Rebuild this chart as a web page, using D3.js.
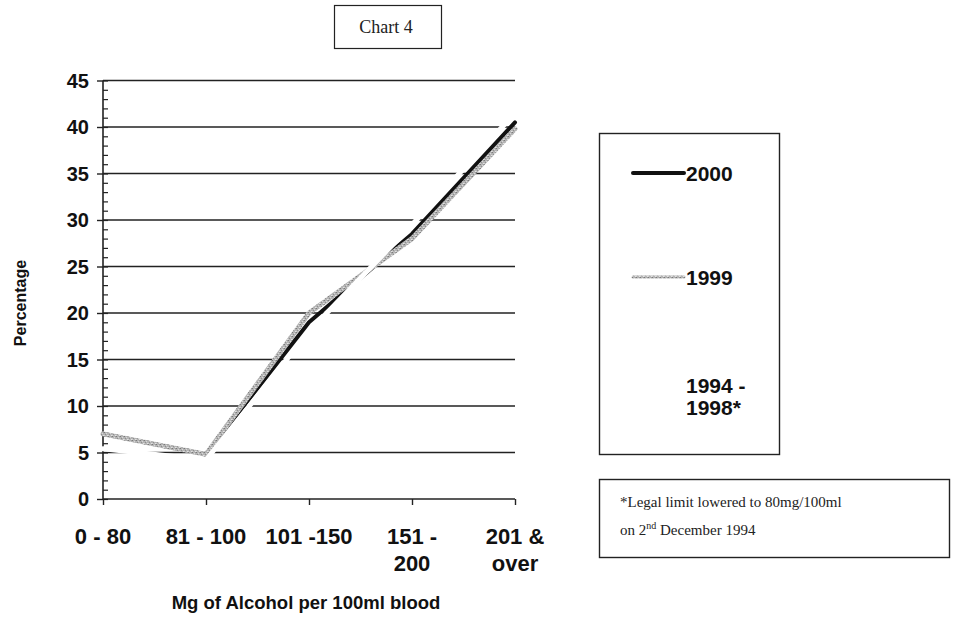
<!DOCTYPE html>
<html><head><meta charset="utf-8">
<script src="https://cdn.jsdelivr.net/npm/d3@7"></script>
<style>body{margin:0;background:#fff}svg{display:block}</style>
</head><body>
<svg id="chart" width="956" height="618"></svg>
<script>
// ---- data ----
const categories = ["0 - 80", "81 - 100", "101 -150", "151 - 200", "201 & over"];
const categoryLabelLines = [["0 - 80"], ["81 - 100"], ["101 -150"], ["151 -", "200"], ["201 &", "over"]];
const values2000 = [7, 4.8, 19, 28.5, 40.5];
const values1999 = [7, 4.8, 20, 28, 39.8];
const values1994to1998 = [5.4, 4.2, 18, 29.5, 41.5];
const seriesNames = ["2000", "1999", "1994 - 1998*"];
const legendLabelLines = [["2000"], ["1999"], ["1994 -", "1998*"]];
const yTickValues = [0, 5, 10, 15, 20, 25, 30, 35, 40, 45];
const yMinorTickValues = d3.range(0, 46, 1);
const chartTitle = "Chart 4";
const yAxisTitle = "Percentage";
const xAxisTitle = "Mg of Alcohol per 100ml blood";
const footnoteLines = ["*Legal limit lowered to 80mg/100ml", "on 2|nd| December 1994"];

// ---- layout ----
const svg = d3.select("#chart");
const SANS = "'Liberation Sans', Arial, sans-serif";
const SERIF = "'Liberation Serif', 'Times New Roman', serif";
const x = d3.scalePoint().domain(categories).range([103, 515]).padding(0);
const y = d3.scaleLinear().domain([0, 45]).range([499, 80.5]);

svg.append("rect").attr("width", 956).attr("height", 618).attr("fill", "#fff");

// speckled grey texture for the 1999 series
const defs = svg.append("defs");
const pat = defs.append("pattern").attr("id", "speckle").attr("patternUnits", "userSpaceOnUse")
  .attr("width", 4).attr("height", 4);
pat.append("rect").attr("width", 4).attr("height", 4).attr("fill", "#b4b4b4");
[[0, 0, "#7a7a7a"], [2, 1, "#d8d8d8"], [1, 2, "#8e8e8e"], [3, 3, "#e2e2e2"], [3, 0, "#9c9c9c"], [0, 3, "#cfcfcf"]]
  .forEach(([px, py, c]) => pat.append("rect").attr("x", px).attr("y", py).attr("width", 1).attr("height", 1).attr("fill", c));

// title box
svg.append("rect").attr("x", 334.5).attr("y", 5.5).attr("width", 107).attr("height", 43)
  .attr("fill", "none").attr("stroke", "#222").attr("stroke-width", 1.2);
svg.append("text").attr("x", 386).attr("y", 33).attr("text-anchor", "middle")
  .attr("font-family", SERIF).attr("font-size", 18).attr("fill", "#222").text(chartTitle);

// gridlines
svg.append("g").selectAll("line").data(yTickValues.filter(d => d > 0)).join("line")
  .attr("x1", x.range()[0]).attr("x2", x.range()[1])
  .attr("y1", d => y(d)).attr("y2", d => y(d))
  .attr("stroke", "#222").attr("stroke-width", 1.6);

// y axis
const yAxisG = svg.append("g").attr("transform", `translate(${x.range()[0]},0)`);
yAxisG.append("g").call(d3.axisRight(y).tickValues(yMinorTickValues).tickSize(5).tickFormat(""))
  .call(g => g.select(".domain").remove())
  .selectAll("line").attr("stroke", "#222").attr("stroke-width", 1.2);
yAxisG.append("g").call(d3.axisLeft(y).tickValues(yTickValues).tickSize(6).tickFormat(""))
  .call(g => g.select(".domain").attr("stroke", "#222").attr("stroke-width", 1.6).attr("d", `M0,${y(45)}V${y(0)}`))
  .selectAll("line").attr("stroke", "#222").attr("stroke-width", 1.4);
svg.append("g").selectAll("text").data(yTickValues).join("text")
  .attr("x", 89).attr("y", d => y(d)).attr("dy", "0.36em").attr("text-anchor", "end")
  .attr("font-family", SANS).attr("font-weight", "bold").attr("font-size", 20).attr("fill", "#111")
  .text(d => d);

// x axis
const xAxisG = svg.append("g").attr("transform", `translate(0,${y(0)})`);
xAxisG.call(d3.axisBottom(x).tickSize(6).tickFormat(""))
  .call(g => g.select(".domain").attr("stroke", "#222").attr("stroke-width", 1.6).attr("d", `M${x.range()[0]},0H${x.range()[1]}`))
  .selectAll("line").attr("stroke", "#222").attr("stroke-width", 1.4);
const xl = svg.append("g").selectAll("text").data(categories).join("text")
  .attr("text-anchor", "middle").attr("font-family", SANS).attr("font-weight", "bold")
  .attr("font-size", 22).attr("fill", "#111");
xl.each(function(d, i) {
  const lines = categoryLabelLines[i];
  d3.select(this).selectAll("tspan").data(lines).join("tspan")
    .attr("x", x(d)).attr("y", (t, j) => 544 + j * 27).text(t => t);
});

// axis titles
svg.append("text").attr("transform", "translate(26,303) rotate(-90)").attr("text-anchor", "middle")
  .attr("font-family", SANS).attr("font-weight", "bold").attr("font-size", 16).attr("fill", "#111")
  .text(yAxisTitle);
svg.append("text").attr("x", 306).attr("y", 609).attr("text-anchor", "middle")
  .attr("font-family", SANS).attr("font-weight", "bold").attr("font-size", 18.5).attr("fill", "#111")
  .text(xAxisTitle);

// lines
const line = d3.line().x((d, i) => x(categories[i])).y(d => y(d));
const seriesStyles = [
  { values: values2000, stroke: "#111", width: 4 },
  { values: values1999, stroke: "url(#speckle)", width: 5 },
  { values: values1994to1998, stroke: "#ffffff", width: 5 }
];
svg.append("g").selectAll("path").data(seriesStyles).join("path")
  .attr("d", s => line(s.values)).attr("fill", "none")
  .attr("stroke", s => s.stroke).attr("stroke-width", s => s.width)
  .attr("stroke-linejoin", "round").attr("stroke-linecap", "round");

// legend
svg.append("rect").attr("x", 599.5).attr("y", 133.5).attr("width", 180).attr("height", 321)
  .attr("fill", "none").attr("stroke", "#222").attr("stroke-width", 1.4);
const legendY = [173, 277, 395];
const lg = svg.append("g").selectAll("g").data(seriesStyles).join("g")
  .attr("transform", (d, i) => `translate(0,${legendY[i]})`);
lg.append("line").attr("x1", 633).attr("x2", 684).attr("y1", 0).attr("y2", 0)
  .attr("stroke", s => s.stroke).attr("stroke-width", (s, i) => i === 1 ? 3 : s.width)
  .attr("stroke-linecap", "round");
lg.append("text").attr("font-family", SANS).attr("font-weight", "bold").attr("font-size", 21).attr("fill", "#111")
  .each(function(s, i) {
    const lines = legendLabelLines[i];
    d3.select(this).selectAll("tspan").data(lines).join("tspan")
      .attr("x", 686).attr("y", (t, j) => (lines.length === 1 ? 8 : -2 + j * 22)).text(t => t);
  });

// footnote box
svg.append("rect").attr("x", 599.5).attr("y", 479.5).attr("width", 350).attr("height", 78)
  .attr("fill", "none").attr("stroke", "#222").attr("stroke-width", 1.4);
const fn = svg.append("text").attr("font-family", SERIF).attr("font-size", 15).attr("fill", "#222");
fn.append("tspan").attr("x", 620).attr("y", 507).text(footnoteLines[0]);
const parts = footnoteLines[1].split("|");
fn.append("tspan").attr("x", 620).attr("y", 535).text(parts[0]);
fn.append("tspan").attr("dy", -6).attr("font-size", 10).text(parts[1]);
fn.append("tspan").attr("dy", 6).text(parts[2]);
</script>
</body></html>
